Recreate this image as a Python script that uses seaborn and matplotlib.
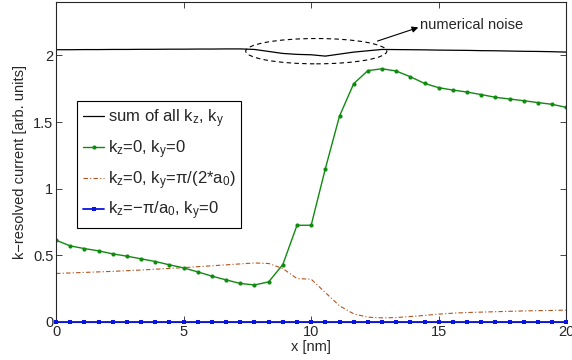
import numpy as np
import pandas as pd
import seaborn as sns
from matplotlib import pyplot as plt
from matplotlib.patches import Ellipse

# 37 sample points along x (nm)
x_nm = np.linspace(0, 20, 37)

sum_all = [2.043, 2.043, 2.044, 2.044, 2.045, 2.045, 2.046, 2.046, 2.047, 2.047,
           2.048, 2.048, 2.049, 2.049, 2.045, 2.030, 2.015, 2.008, 2.005, 1.995,
           2.010, 2.025, 2.035, 2.045, 2.044, 2.043, 2.042, 2.040, 2.039, 2.038,
           2.036, 2.035, 2.033, 2.031, 2.030, 2.028, 2.025]

kz0_ky0 = [0.613, 0.570, 0.550, 0.533, 0.510, 0.493, 0.473, 0.453, 0.428, 0.405,
           0.375, 0.343, 0.315, 0.288, 0.277, 0.300, 0.430, 0.725, 0.725, 1.150,
           1.545, 1.788, 1.886, 1.900, 1.883, 1.840, 1.790, 1.758, 1.740, 1.725,
           1.706, 1.686, 1.673, 1.660, 1.646, 1.633, 1.610]

kz0_kypi = [0.363, 0.367, 0.371, 0.375, 0.379, 0.384, 0.389, 0.395, 0.401, 0.407,
            0.414, 0.421, 0.428, 0.435, 0.442, 0.438, 0.400, 0.325, 0.320, 0.220,
            0.120, 0.060, 0.035, 0.030, 0.032, 0.040, 0.048, 0.058, 0.065, 0.070,
            0.073, 0.076, 0.079, 0.082, 0.084, 0.086, 0.088]

kzpi_ky0 = [0.0] * 37

df = pd.DataFrame({"x": x_nm, "sum": sum_all, "g": kz0_ky0,
                   "o": kz0_kypi, "b": kzpi_ky0})

sns.set_style("ticks")
plt.rcParams['font.family'] = ['Liberation Sans', 'DejaVu Sans']
plt.rcParams['mathtext.default'] = 'regular'
plt.rcParams['xtick.direction'] = 'in'
plt.rcParams['ytick.direction'] = 'in'

fig = plt.figure(figsize=(5.72, 3.6), dpi=100)
ax = fig.add_axes([0.098, 0.106, 0.892, 0.888])

sns.lineplot(data=df, x="x", y="sum", color="black", linewidth=0.9, ax=ax,
             label="sum of all k$_z$, k$_y$")
sns.lineplot(data=df, x="x", y="g", color="#108a10", linewidth=1.0, marker="o",
             markersize=3, markeredgewidth=0, ax=ax, label="k$_z$=0, k$_y$=0")
sns.lineplot(data=df, x="x", y="o", color="#b5541e", linewidth=0.8,
             linestyle=(0, (4, 2, 1, 2)), ax=ax,
             label="k$_z$=0, k$_y$=π/(2*a$_0$)")
sns.lineplot(data=df, x="x", y="b", color="#0a14e0", linewidth=1.3, marker="s",
             markersize=2.8, markeredgewidth=0, ax=ax, clip_on=False, zorder=5,
             label="k$_z$=−π/a$_0$, k$_y$=0")

# the "numerical noise" marker
ax.add_patch(Ellipse((10.2, 2.032), 5.53, 0.19, fill=False, linestyle=(0, (4, 3)),
                     edgecolor="black", linewidth=0.8))
ax.annotate("", xy=(14.2, 2.21), xytext=(12.6, 2.108),
            arrowprops=dict(arrowstyle="-|>", color="black", lw=0.8,
                            mutation_scale=9, shrinkA=0, shrinkB=0))
ax.text(14.25, 2.23, "numerical noise", fontsize=10.5, va="center")

ax.set_xlim(0, 20)
ax.set_ylim(0, 2.4)
ax.set_xticks([0, 5, 10, 15, 20])
ax.set_yticks([0, 0.5, 1, 1.5, 2])
ax.set_yticklabels(["0", "0.5", "1", "1.5", "2"])
ax.tick_params(labelsize=10.5, top=True, right=True, length=4, width=0.6, pad=2)
for s in ax.spines.values():
    s.set_linewidth(0.8)
ax.set_xlabel("x [nm]", fontsize=10.5, labelpad=1)
ax.set_ylabel("k−resolved current [arb. units]", fontsize=10.5, labelpad=4)

leg = ax.legend(loc="upper left", bbox_to_anchor=(0.041, 0.69), fontsize=12,
                borderaxespad=0, handlelength=1.3, handletextpad=0.2,
                labelspacing=0.5, borderpad=0.35, fancybox=False, framealpha=1,
                edgecolor="black")
leg.get_frame().set_linewidth(0.8)

fig.savefig("out.png", dpi=100)
